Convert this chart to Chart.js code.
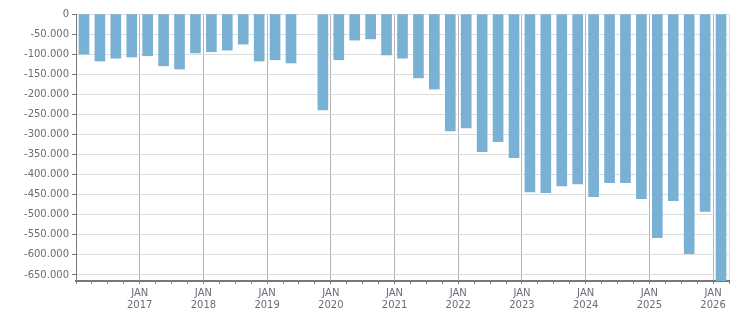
<!DOCTYPE html>
<html>
<head>
<meta charset="utf-8">
<script src="https://cdn.jsdelivr.net/npm/chart.js@4.4.1/dist/chart.umd.min.js"></script>
<style>
html,body{margin:0;padding:0;background:#fff;}
canvas{display:block;}
</style>
</head>
<body>
<canvas id="c" width="751" height="313"></canvas>
<script>
// Quarterly data, Q1 2016 .. Q1 2026
const quarters = [
  'Q1 2016','Q2 2016','Q3 2016','Q4 2016',
  'Q1 2017','Q2 2017','Q3 2017','Q4 2017',
  'Q1 2018','Q2 2018','Q3 2018','Q4 2018',
  'Q1 2019','Q2 2019','Q3 2019','Q4 2019',
  'Q1 2020','Q2 2020','Q3 2020','Q4 2020',
  'Q1 2021','Q2 2021','Q3 2021','Q4 2021',
  'Q1 2022','Q2 2022','Q3 2022','Q4 2022',
  'Q1 2023','Q2 2023','Q3 2023','Q4 2023',
  'Q1 2024','Q2 2024','Q3 2024','Q4 2024',
  'Q1 2025','Q2 2025','Q3 2025','Q4 2025',
  'Q1 2026'
];
const values = [
  -100000, -117000, -110000, -107000,
  -104000, -129000, -137000, -97000,
  -94000, -90000, -75000, -117000,
  -114000, -122000, null, -239000,
  -114000, -65000, -62000, -102000,
  -110000, -159000, -187000, -291000,
  -284000, -343000, -318000, -358000,
  -443000, -445000, -428000, -423000,
  -455000, -420000, -420000, -460000,
  -557000, -465000, -597000, -492000,
  -700000
];
const yearLabels = ['2016','2017','2018','2019','2020','2021','2022','2023','2024','2025','2026'];
const monthLabel = 'JAN';
const yTickValues = [0, -50000, -100000, -150000, -200000, -250000, -300000,
  -350000, -400000, -450000, -500000, -550000, -600000, -650000];

const points = quarters.map((q, i) => ({x: i + 0.5, y: values[i]}));

const textColor = '#6b6b7b';
const font = {family: 'DejaVu Sans', size: 10};

new Chart(document.getElementById('c'), {
  type: 'bar',
  data: {
    datasets: [{
      data: points,
      backgroundColor: '#79b1d4',
      borderWidth: 0,
      barThickness: 10
    }]
  },
  options: {
    responsive: false,
    animation: false,
    layout: {padding: {top: 14, right: 22, left: 0, bottom: 0}},
    plugins: {legend: {display: false}, tooltip: {enabled: false}},
    scales: {
      x: {
        type: 'linear',
        offset: false,
        min: 0,
        max: quarters.length,
        afterFit(s) { s.height = 32; },
        border: {display: true, color: '#777', width: 2},
        grid: {
          offset: false,
          drawTicks: true,
          tickLength: 3,
          color: ctx => {
            const v = ctx.tick ? ctx.tick.value : 0;
            if (v === quarters.length) return '#dcdcdc';
            return (v % 4 === 0) ? '#b4b4b4' : 'rgba(0,0,0,0)';
          },
          tickColor: '#888',
          lineWidth: 1
        },
        ticks: {
          stepSize: 1,
          autoSkip: false,
          maxRotation: 0,
          padding: 3,
          color: textColor,
          font: font,
          callback: v => (v > 0 && v % 4 === 0) ? [monthLabel, yearLabels[v / 4]] : ''
        }
      },
      y: {
        min: -665000,
        max: 0,
        afterFit(s) { s.width = 76; },
        afterBuildTicks(s) { s.ticks = yTickValues.map(v => ({value: v})); },
        border: {display: true, color: '#777', width: 1},
        grid: {color: '#dcdcdc', tickColor: '#777', tickLength: 4, lineWidth: 1},
        ticks: {
          padding: 3,
          color: textColor,
          font: font,
          callback: v => {
            const s = Math.abs(v).toString().replace(/\B(?=(\d{3})+(?!\d))/g, '.');
            return (v < 0 ? '-' : '') + s;
          }
        }
      }
    }
  }
});
</script>
</body>
</html>
